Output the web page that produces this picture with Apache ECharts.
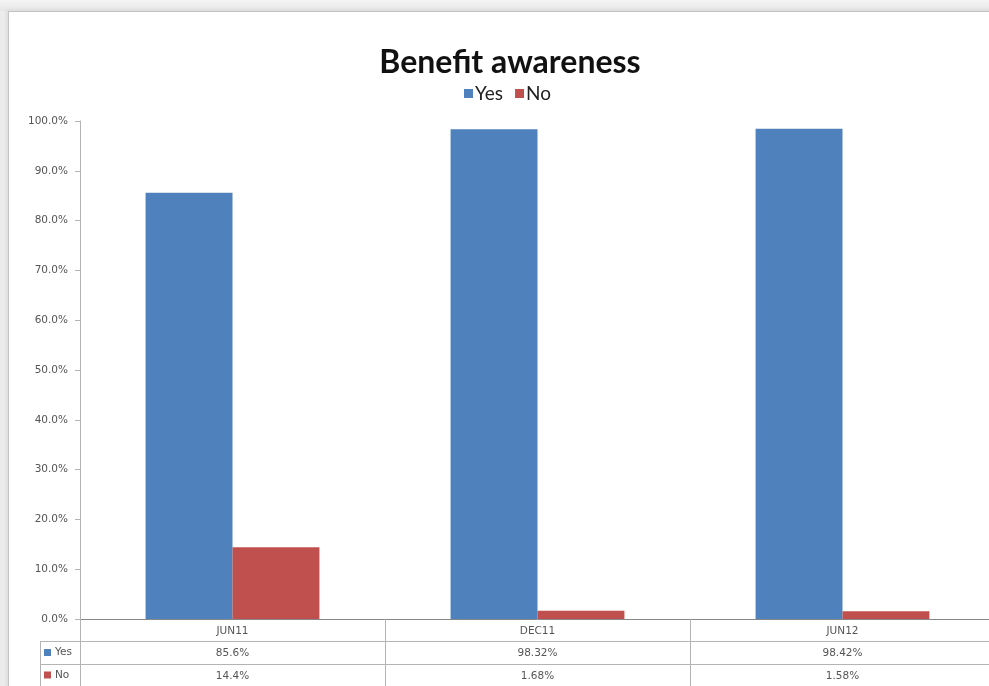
<!DOCTYPE html>
<html>
<head>
<meta charset="utf-8">
<script src="https://cdn.jsdelivr.net/npm/echarts@6/dist/echarts.min.js"></script>
<style>
  html, body { margin: 0; padding: 0; width: 989px; height: 686px; overflow: hidden; position: relative;
    background: linear-gradient(#f4f4f4, #e6e6e6 11px, #ececec 11px); }
  #panel { position: absolute; left: 8px; top: 11px; width: 1000px; height: 700px;
    background: #fff; border: 1px solid #c4c4c4; box-shadow: -2px -1px 3px rgba(0,0,0,0.06); }
  #chart { position: absolute; left: 0; top: 0; width: 998px; height: 686px; }
</style>
</head>
<body>
<div id="panel"></div>
<div id="chart"></div>
<script>
// Survey periods and share of respondents (percent)
const categories = ['JUN11', 'DEC11', 'JUN12'];
const yesValues = [85.6, 98.32, 98.42];
const noValues = [14.4, 1.68, 1.58];

const BLUE = '#4F81BD';
const RED = '#C0504D';
const LINE = '#b4b4b4';
const TXT = '#555555';
const FONT = 'DejaVu Sans';

const chart = echarts.init(document.getElementById('chart'), null, { renderer: 'canvas' });

const pct = v => String(v) + '%';

// Grid geometry for the data table under the plot
const gridLeft = 80, gridTop = 121, gridBottomY = 619;
const rowH = [22, 23, 22];

const option = {
  backgroundColor: 'transparent',
  animation: false,
  title: {
    text: 'Benefit awareness',
    left: 505, textAlign: 'center', top: 42,
    textStyle: { fontFamily: 'Lato', fontWeight: 'bold', fontSize: 32, color: '#111' }
  },
  legend: {
    left: 459, top: 79,
    itemWidth: 9, itemHeight: 9, itemGap: 12,
    icon: 'rect',
    textStyle: { fontFamily: 'Lato', fontSize: 19, color: '#222', padding: [0, 0, 0, -3] },
    data: ['Yes', 'No']
  },
  grid: { left: gridLeft, top: gridTop, right: 3, bottom: 686 - gridBottomY },
  yAxis: {
    type: 'value', min: 0, max: 100, interval: 10,
    axisLine: { show: true, lineStyle: { color: LINE, width: 1 } },
    axisTick: { show: true, length: 5, lineStyle: { color: LINE } },
    splitLine: { show: false },
    axisLabel: {
      formatter: v => v.toFixed(1) + '%',
      fontFamily: FONT, fontSize: 10.5, color: TXT, margin: 12
    }
  },
  xAxis: [
    {
      type: 'category', data: categories, position: 'bottom',
      axisLine: { show: true, lineStyle: { color: '#888', width: 1 } },
      axisTick: { show: true, interval: 0, length: 67, lineStyle: { color: LINE } },
      axisLabel: { fontFamily: FONT, fontSize: 10.5, color: TXT, margin: 7 }
    },
    {
      type: 'category', data: yesValues.map(pct), position: 'bottom', offset: rowH[0],
      axisLine: { show: true, lineStyle: { color: LINE, width: 1 } },
      axisTick: { show: false },
      axisLabel: { fontFamily: FONT, fontSize: 10.5, color: TXT, margin: 7 }
    },
    {
      type: 'category', data: noValues.map(pct), position: 'bottom', offset: rowH[0] + rowH[1],
      axisLine: { show: true, lineStyle: { color: LINE, width: 1 } },
      axisTick: { show: false },
      axisLabel: { fontFamily: FONT, fontSize: 10.5, color: TXT, margin: 7 }
    }
  ],
  series: [
    {
      name: 'Yes', type: 'bar', xAxisIndex: 0, data: yesValues,
      barGap: '0%', barCategoryGap: '43%',
      itemStyle: { color: BLUE }
    },
    {
      name: 'No', type: 'bar', xAxisIndex: 0, data: noValues,
      itemStyle: { color: RED }
    }
  ]
};
chart.setOption(option);

// Row headers of the data table: legend key + series name
const y1 = gridBottomY + rowH[0];
const y2 = y1 + rowH[1];
const y3 = y2 + rowH[2];
const rowHead = (y, h, name, color) => [
  { type: 'rect', shape: { x: 44, y: y + h / 2 - 3.5, width: 7, height: 7 }, style: { fill: color } },
  { type: 'text', style: { x: 55, y: y + h / 2, text: name, fontFamily: FONT, fontSize: 10.5,
      fill: TXT, verticalAlign: 'middle' } }
];
chart.setOption({
  graphic: [
    { type: 'line', shape: { x1: 40, y1: y1 + 0.5, x2: gridLeft, y2: y1 + 0.5 }, style: { stroke: LINE } },
    { type: 'line', shape: { x1: 40, y1: y2 + 0.5, x2: gridLeft, y2: y2 + 0.5 }, style: { stroke: LINE } },
    { type: 'line', shape: { x1: 40.5, y1: y1, x2: 40.5, y2: y3 + 2 }, style: { stroke: LINE } },
    ...rowHead(y1, rowH[1], 'Yes', BLUE),
    ...rowHead(y2, rowH[2], 'No', RED)
  ]
});
</script>
</body>
</html>
